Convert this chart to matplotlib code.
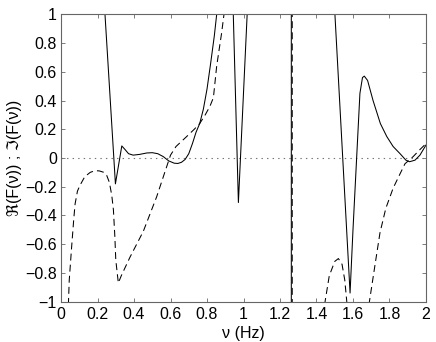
import numpy as np
import matplotlib
matplotlib.use("Agg")
import matplotlib.pyplot as plt

plt.rcParams["font.family"] = ["Liberation Sans", "DejaVu Sans"]
plt.rcParams["lines.scale_dashes"] = False

# real part (solid), pieces separated by NaN where the curve leaves the window
re_x = [0.236, 0.298, 0.333, 0.35, 0.37, 0.395, 0.43, 0.47, 0.50, 0.53, 0.56, 0.59, 0.62, 0.64,
        0.66, 0.68, 0.70, 0.72, 0.74, 0.76, 0.78, 0.80, 0.82, 0.84, 0.853, 0.87, np.nan,
        0.938, 0.944, 0.972, 1.02, 1.024, np.nan,
        1.262, 1.262, np.nan,
        1.497, 1.501, 1.584, 1.60, 1.62, 1.638, 1.652, 1.662, 1.68, 1.71, 1.75, 1.785, 1.82,
        1.858, 1.89, 1.91, 1.94, 1.967, 2.0]
re_y = [1.1, -0.18, 0.084, 0.06, 0.03, 0.02, 0.025, 0.035, 0.037, 0.03, 0.01, -0.02, -0.036, -0.038,
        -0.03, -0.01, 0.03, 0.10, 0.18, 0.24, 0.34, 0.48, 0.66, 0.85, 1.0, 1.3, np.nan,
        1.1, 1.0, -0.31, 1.0, 1.1, np.nan,
        1.5, -1.5, np.nan,
        1.1, 1.0, -0.94, -0.5, 0.0, 0.45, 0.56, 0.57, 0.54, 0.40, 0.24, 0.15, 0.08,
        0.03, -0.015, -0.026, -0.015, 0.02, 0.09]

# imaginary part (dashed)
im_x = [0.038, 0.045, 0.058, 0.07, 0.077, 0.09, 0.104, 0.13, 0.16, 0.186, 0.21, 0.235, 0.25,
        0.265, 0.278, 0.287, 0.295, 0.30, 0.314, 0.33, 0.378, 0.451, 0.524, 0.579, 0.60, 0.63,
        0.689, 0.73, 0.76, 0.79, 0.816, 0.835, 0.853, 0.88, 0.893, 0.90, np.nan,
        1.267, 1.267, np.nan,
        1.44, 1.447, 1.47, 1.50, 1.52, 1.54, 1.555, 1.566, 1.57, np.nan,
        1.685, 1.69, 1.72, 1.748, 1.78, 1.82, 1.858, 1.885, 1.93, 1.96, 2.0]
im_y = [-1.1, -0.85, -0.62, -0.42, -0.32, -0.23, -0.19, -0.13, -0.10, -0.088, -0.09, -0.10, -0.12,
        -0.17, -0.26, -0.36, -0.55, -0.71, -0.87, -0.82, -0.69, -0.51, -0.27, -0.06, 0.02, 0.08,
        0.15, 0.20, 0.24, 0.30, 0.36, 0.42, 0.64, 0.87, 1.0, 1.1, np.nan,
        1.5, -1.5, np.nan,
        -1.1, -1.0, -0.82, -0.72, -0.70, -0.74, -0.85, -1.0, -1.1, np.nan,
        -1.1, -1.0, -0.75, -0.52, -0.35, -0.21, -0.11, -0.04, 0.01, 0.05, 0.10]

x_ticks = np.arange(0, 2.01, 0.2)
y_ticks = np.arange(-1, 1.01, 0.2)


def fmt(v):
    v = round(float(v), 1) + 0.0
    return f"{v:g}".replace("-", "\u2212")


fig = plt.figure(figsize=(4.36, 3.42), dpi=100)
ax = fig.add_axes([0.140, 0.118, 0.837, 0.840])

ax.axhline(0, color="0.45", lw=0.8, linestyle=(0, (1, 3)))
ax.plot(re_x, re_y, color="black", lw=0.75)
ax.plot(im_x, im_y, color="black", lw=0.75, dashes=(5, 3))

ax.set_xlim(0, 2)
ax.set_ylim(-1, 1)
ax.set_xticks(x_ticks)
ax.set_yticks(y_ticks)
ax.set_xticklabels([fmt(v) for v in x_ticks])
ax.set_yticklabels([fmt(v) for v in y_ticks])
ax.tick_params(direction="in", top=True, right=True, length=3, width=0.6,
               color="0.4", labelsize=11.5)
ax.tick_params(axis="x", pad=4)
ax.tick_params(axis="y", pad=3)
for s in ax.spines.values():
    s.set_color("0.4")
    s.set_linewidth(0.8)

ax.set_xlabel("\u03bd (Hz)", fontsize=11.5)
ax.xaxis.set_label_coords(0.5, -0.085)
ax.set_ylabel("\u211c(F(\u03bd)) ; \u2111(F(\u03bd))", fontsize=11.5)
ax.yaxis.set_label_coords(-0.108, 0.5)

fig.savefig("out.png", dpi=100)
